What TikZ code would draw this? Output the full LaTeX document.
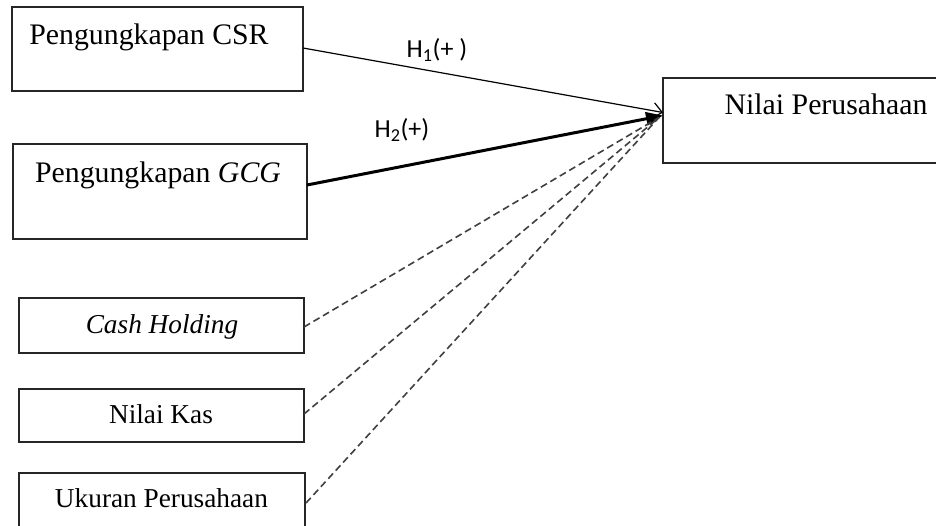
\documentclass[tikz,border=0pt]{standalone}
\usepackage{fontspec}
\setmainfont{Liberation Serif}
\newfontfamily\lblfont{Carlito}
\usetikzlibrary{arrows.meta}
\begin{document}
\begin{tikzpicture}[x=1pt,y=-1pt,
  box/.style={draw=black!85, line width=1.5pt, inner sep=0pt, outer sep=0pt, anchor=north west},
  boxtext/.style={anchor=base, inner sep=0pt, font=\fontsize{29.8}{35}\selectfont},
  smalltext/.style={anchor=base, inner sep=0pt, font=\fontsize{27.3}{32}\selectfont},
  hlabel/.style={anchor=base, inner sep=0pt, font=\lblfont\fontsize{26}{30}\selectfont},
  dashline/.style={draw=black!75, line width=1.6pt, dash pattern=on 7pt off 4pt}
]
\useasboundingbox (0,0) rectangle (936,526);
\fill[white] (0,0) rectangle (936,526);
% boxes
\node[box, minimum width=291pt, minimum height=84pt] (csr) at (12,7) {};
\node[box, minimum width=294pt, minimum height=95pt] (gcg) at (13,144) {};
\node[box, minimum width=285pt, minimum height=55pt] (cash) at (19,298) {};
\node[box, minimum width=285pt, minimum height=53pt] (kas) at (19,389) {};
\node[box, minimum width=286pt, minimum height=66pt] (uk) at (19,473) {};
\node[box, minimum width=300pt, minimum height=85pt] (nilai) at (663,78) {};
% texts
\node[boxtext] (tcsr) at (149,45) {Pengungkapan CSR};
\node[boxtext] (tgcg) at (158,183) {Pengungkapan \textit{GCG}};
\node[smalltext] (tcash) at (162,333) {\textit{Cash Holding}};
\node[smalltext] (tkas) at (161,423) {Nilai Kas};
\node[smalltext] (tuk) at (161.5,507) {Ukuran Perusahaan};
\node[boxtext] (tnilai) at (826,115) {Nilai Perusahaan};
% labels
\node[hlabel] (h1) at (437,58) {H\textsubscript{1}(+ )};
\node[hlabel] (h2) at (402,138) {H\textsubscript{2}(+)};
% connectors
\draw[line width=1.2pt, -{Straight Barb[length=9pt,width=16pt,line width=1.2pt]}]
  ([yshift=1pt]csr.east) -- ([yshift=8pt]nilai.west);
\draw[line width=3pt, -{Triangle[length=17pt,width=13pt]}]
  ([yshift=6.5pt]gcg.east) -- ([yshift=5pt]nilai.west);
\draw[dashline] ([yshift=-1.5pt]cash.east) -- ([xshift=-4pt,yshift=3pt]nilai.west);
\draw[dashline] ([yshift=1.5pt]kas.east) -- ([xshift=-4pt,yshift=3pt]nilai.west);
\draw[dashline] ([xshift=1pt,yshift=3pt]uk.east) -- ([xshift=-4pt,yshift=3pt]nilai.west);
\end{tikzpicture}
\end{document}
